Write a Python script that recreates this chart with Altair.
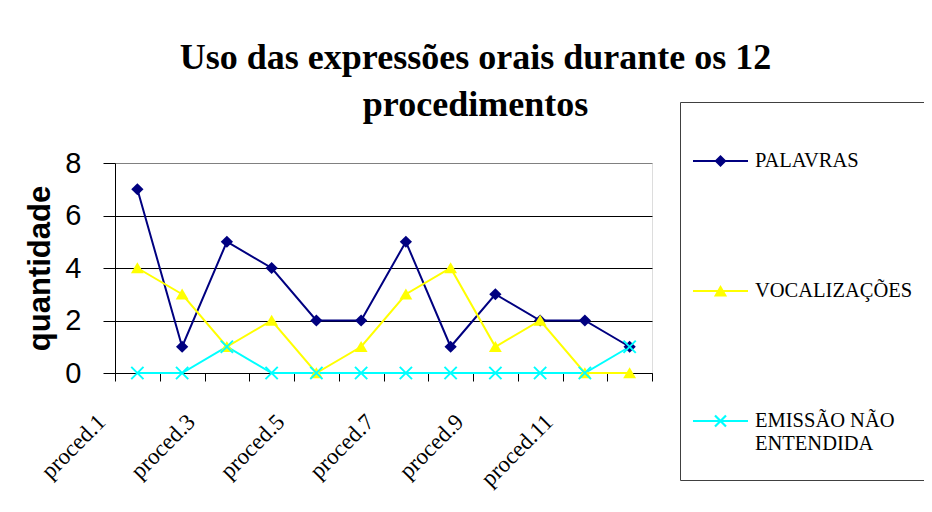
import altair as alt
import pandas as pd

categories = ["proced.1", "proced.2", "proced.3", "proced.4", "proced.5", "proced.6",
              "proced.7", "proced.8", "proced.9", "proced.10", "proced.11", "proced.12"]
shown_labels = ["proced.1", "proced.3", "proced.5", "proced.7", "proced.9", "proced.11"]
series = ["PALAVRAS", "VOCALIZAÇÕES", "EMISSÃO NÃO ENTENDIDA"]
palavras = [7, 1, 5, 4, 2, 2, 5, 1, 3, 2, 2, 1]
vocalizacoes = [4, 3, 1, 2, 0, 1, 3, 4, 1, 2, 0, 0]
emissao = [0, 0, 1, 0, 0, 0, 0, 0, 0, 0, 0, 1]
colors = ["#000080", "#FFFF00", "#00FFFF"]
y_ticks = [0, 2, 4, 6, 8]

title_lines = ["Uso das expressões orais durante os 12", "procedimentos"]

rows = []
for name, vals in zip(series, [palavras, vocalizacoes, emissao]):
    for c, v in zip(categories, vals):
        rows.append({"proced": c, "serie": name, "valor": v})
df = pd.DataFrame(rows)

# marker shapes (custom paths, all filled)
marker_paths = [
    "M0,-1L1,0L0,1L-1,0Z",
    "M0,-0.95L1.05,0.85L-1.05,0.85Z",
    "M-0.887,-1.113L1.113,0.887L0.887,1.113L-1.113,-0.887Z"
    "M-1.113,0.887L0.887,-1.113L1.113,-0.887L-0.887,1.113Z",
]
# legend symbols: line + marker
legend_paths = [
    "M-1,-0.036H1V0.036H-1Z M0,-0.22L0.22,0L0,0.22L-0.22,0Z",
    "M-1,-0.036H1V0.036H-1Z M0,-0.22L0.24,0.2L-0.24,0.2Z",
    "M-1,-0.036H1V0.036H-1Z M-0.172,-0.228L0.228,0.172L0.172,0.228L-0.228,-0.172Z "
    "M-0.228,0.172L0.172,-0.228L0.228,-0.172L-0.172,0.228Z",
]

label_test = "indexof(" + str(shown_labels) + ", datum.value) >= 0 ? datum.label : ''"

x_enc = alt.X(
    "proced:N",
    sort=categories,
    scale=alt.Scale(type="band", paddingInner=0, paddingOuter=0),
    title=None,
    axis=alt.Axis(
        tickBand="extent",
        tickSize=8,
        tickColor="black",
        domainColor="black",
        labelAngle=-45,
        labelAlign="right",
        labelBaseline="middle",
        labelFont="Liberation Serif",
        labelFontSize=23,
        labelColor="black",
        labelOffset=-36,
        labelPadding=37,
        labelOverlap=False,
        labelExpr=label_test,
        grid=False,
    ),
)
y_enc = alt.Y(
    "valor:Q",
    scale=alt.Scale(domain=[0, 8]),
    title="quantidade",
    axis=alt.Axis(
        values=y_ticks,
        tickSize=12,
        tickColor="black",
        domainColor="black",
        labelFont="Liberation Sans",
        labelFontSize=29,
        labelColor="black",
        labelPadding=22,
        titleFont="Liberation Sans",
        titleFontSize=31,
        titleFontWeight="bold",
        titleColor="black",
        titlePadding=8,
        grid=True,
        gridColor={"condition": {"test": "datum.value === 8", "value": "#808080"}, "value": "black"},
        gridWidth=1,
    ),
)

color_scale = alt.Scale(domain=series, range=colors)

base = alt.Chart(df)

lines = base.mark_line(strokeWidth=2).encode(
    x=x_enc, y=y_enc,
    color=alt.Color("serie:N", scale=color_scale, legend=None),
)
points = base.mark_point(filled=True, size=150, opacity=1).encode(
    x=x_enc, y=y_enc,
    color=alt.Color("serie:N", scale=color_scale, legend=None),
    shape=alt.Shape("serie:N", scale=alt.Scale(domain=series, range=marker_paths), legend=None),
)

legend_cfg = dict(
    title=None,
    orient="none",
    legendX=565,
    legendY=-61,
    fillColor="white",
    strokeColor="#404040",
    padding=13,
    clipHeight=92,
    rowPadding=38,
    symbolSize=3025,
    symbolStrokeWidth=0,
    labelOffset=7,
    labelFont="Liberation Serif",
    labelFontSize=20.5,
    labelColor="black",
    labelLimit=300,
    labelExpr="datum.label == 'EMISSÃO NÃO ENTENDIDA' ? ['EMISSÃO NÃO', 'ENTENDIDA'] : datum.label",
)

legend_layer = base.transform_filter("false").mark_point(filled=True, size=3025, opacity=1).encode(
    x=x_enc, y=y_enc,
    color=alt.Color("serie:N", scale=color_scale, legend=alt.Legend(**legend_cfg)),
    shape=alt.Shape("serie:N", scale=alt.Scale(domain=series, range=legend_paths),
                    legend=alt.Legend(**legend_cfg)),
)

chart = alt.layer(lines, points, legend_layer).resolve_scale(
    color="independent", shape="independent"
).properties(
    width=537,
    height=210,
    autosize=alt.AutoSizeParams(type="none"),
    padding={"left": 107, "top": 155, "right": 272, "bottom": 131},
    title=alt.TitleParams(
        text=title_lines,
        font="Liberation Serif",
        fontSize=36,
        fontWeight="bold",
        color="black",
        anchor="middle",
        dx=92,
        offset=-22,
        lineHeight=47,
    ),
).configure_view(
    fill="#C0C0C0",
    stroke="#808080",
    strokeWidth=2,
).configure(background="white")

chart.save("out.html", embed_options={"renderer": "svg", "actions": False})
